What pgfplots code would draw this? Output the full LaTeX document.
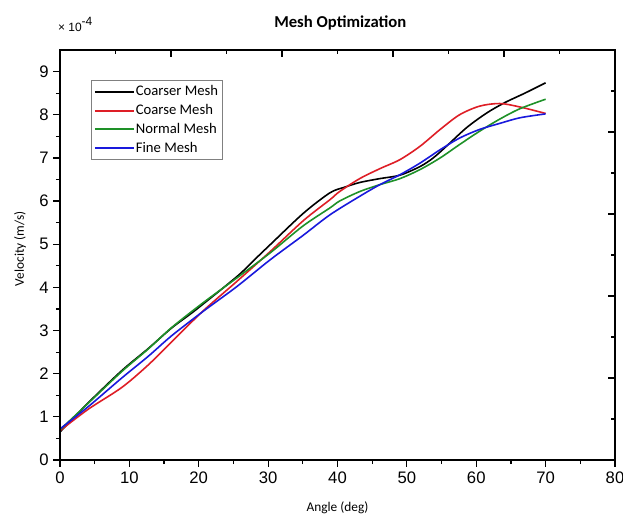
\documentclass[border=0pt]{standalone}
\usepackage{pgfplots}
\pgfplotsset{compat=1.18}
\usepackage{fontspec}
\setmainfont{Carlito}
\newfontfamily\arial{Liberation Sans}
\definecolor{cRed}{RGB}{222,30,38}
\definecolor{cGreen}{RGB}{30,145,40}
\definecolor{cBlue}{RGB}{25,25,220}
\begin{document}
\begin{tikzpicture}[x=1pt,y=1pt]
\useasboundingbox (-45,-45) rectangle (422.25,345);
\begin{axis}[
  at={(0,0)}, anchor=south west,
  width=416.25pt, height=307.5pt, scale only axis,
  xmin=0, xmax=80, ymin=0, ymax=9.5,
  xtick={0,10,...,80}, ytick={0,1,...,9},
  minor x tick num=1, minor y tick num=1,
  xtick pos=left, ytick pos=left,
  tick align=outside,
  major tick length=5pt, minor tick length=3pt,
  axis line style={line width=1pt},
  every tick/.style={black, line width=0.9pt},
  /pgf/number format/assume math mode=true,
  ticklabel style={font=\arial\fontsize{12.5}{14}\selectfont},
  xlabel={Angle (deg)},
  ylabel={Velocity (m/s)},
  label style={font=\fontsize{10}{12}\selectfont},
  xlabel style={at={(axis description cs:0.5,-0.117)}, anchor=center},
  ylabel style={at={(axis description cs:-0.072,0.515)}, anchor=center},
  legend style={at={(rel axis cs:0.0555,0.927)}, anchor=north west,
    draw=gray, line width=0.6pt, font=\fontsize{11}{13}\selectfont,
    row sep=3pt, inner xsep=2pt, inner ysep=3pt,
    nodes={inner sep=1pt}},
  legend cell align=left,
  legend image post style={xscale=1.7, line width=1.5pt},
  every axis plot/.append style={line width=1.2pt, smooth},
  clip=false,
]
\addplot[black] coordinates {
(0,0.65) (4.1,1.33) (8.9,2.07) (12.7,2.58) (16.1,3.06) (19.5,3.47)
(25.5,4.25) (27.9,4.62) (30.3,4.99) (35.1,5.72) (38.9,6.19) (41,6.32)
(43.2,6.43) (46.1,6.52) (49,6.6) (51.9,6.8) (53.8,7.0) (55.7,7.27)
(58.6,7.70) (61.5,8.04) (64.1,8.28) (67,8.5) (70,8.74)};
\addlegendentry{Coarser Mesh}
\addplot[cRed] coordinates {
(0,0.68) (4.1,1.18) (8.9,1.68) (12.7,2.2) (16.1,2.74) (20.6,3.45)
(25.5,4.14) (30.3,4.83) (35.1,5.55) (38.9,6.03) (40.3,6.22) (43.2,6.52)
(46.1,6.75) (49,6.96) (51.9,7.27) (54.8,7.66) (57.6,8.0) (60.5,8.2)
(63.4,8.26) (66.3,8.18) (70,8.03)};
\addlegendentry{Coarse Mesh}
\addplot[cGreen] coordinates {
(0,0.70) (4.1,1.32) (8.9,2.05) (12.7,2.57) (16.1,3.07) (20.6,3.64)
(25.5,4.22) (30.3,4.80) (35,5.42) (38.9,5.84) (40.3,6.0) (43.2,6.22)
(46.1,6.38) (49,6.52) (51.9,6.73) (54.8,7.0) (57.6,7.31) (60.5,7.62)
(63.4,7.90) (66.3,8.14) (70,8.36)};
\addlegendentry{Normal Mesh}
\addplot[cBlue] coordinates {
(0,0.72) (4.1,1.24) (8.9,1.90) (12.7,2.40) (16.1,2.88) (20.6,3.44)
(25.5,4.02) (30.3,4.64) (35,5.2) (38.9,5.68) (43.2,6.11) (46.1,6.38)
(49,6.61) (51.9,6.88) (54.8,7.19) (57.6,7.46) (60.5,7.66) (63.4,7.80)
(66.3,7.93) (70,8.02)};
\addlegendentry{Fine Mesh}
\node[font=\bfseries\fontsize{12.5}{15}\selectfont, anchor=base] at (axis description cs:0.505,1.056) {Mesh Optimization};
\node[font=\arial\fontsize{9}{10}\selectfont, anchor=base west, inner sep=0pt] at (axis description cs:-0.004,1.044) {× 10\raisebox{5pt}{-4}};
\end{axis}
\begin{axis}[
  at={(0,0)}, anchor=south west,
  width=416.25pt, height=307.5pt, scale only axis,
  xmin=0, xmax=80, ymin=0, ymax=9.5,
  xtick={16,32,48,64}, minor xtick={8,24,40,56,72},
  ytick={1.9,3.8,5.7,7.6}, minor ytick={0.95,2.85,4.75,6.65,8.55},
  xtick pos=right, ytick pos=right,
  tick align=inside,
  major tick length=5pt, minor tick length=3pt,
  axis line style={line width=1pt},
  every tick/.style={black, line width=0.9pt},
  xticklabels={}, yticklabels={},
]
\end{axis}
\end{tikzpicture}
\end{document}
